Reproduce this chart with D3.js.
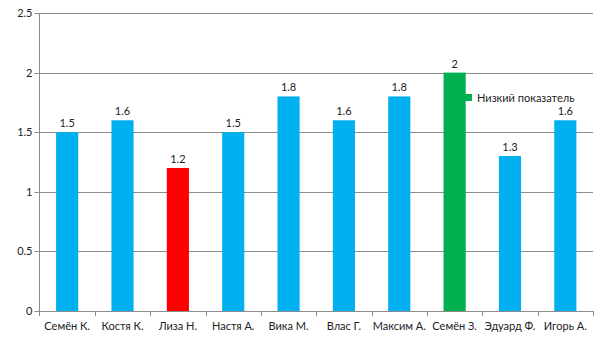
<!DOCTYPE html>
<html><head><meta charset="utf-8">
<script src="https://cdn.jsdelivr.net/npm/d3@7"></script>
<style>body{margin:0;background:#fff}svg{display:block;font-family:Lato,sans-serif}</style>
</head><body><svg id="c" width="605" height="340"></svg>
<script>
const categories = ["Семён К.","Костя К.","Лиза Н.","Настя А.","Вика М.","Влас Г.","Максим А.","Семён З.","Эдуард Ф.","Игорь А."];
const values = [1.5,1.6,1.2,1.5,1.8,1.6,1.8,2,1.3,1.6];
const barColors = ["#00B0F0","#00B0F0","#FF0000","#00B0F0","#00B0F0","#00B0F0","#00B0F0","#00B050","#00B0F0","#00B0F0"];
const yTicks = [0,0.5,1,1.5,2,2.5];
const legendLabel = "Низкий показатель";

const svg = d3.select("#c");
const L = 39.5, R = 593, T = 13, B = 311;
const x = d3.scaleBand().domain(categories).range([L, R]).paddingInner(0.6).paddingOuter(0.3);
const xb = d3.scaleBand().domain(categories).range([L, R]);
const y = d3.scaleLinear().domain([0, 2.5]).range([B, T]);

svg.append("g").selectAll("line").data(yTicks).join("line")
  .attr("x1", L - 5).attr("x2", R).attr("y1", d => Math.round(y(d)) + 0.5).attr("y2", d => Math.round(y(d)) + 0.5)
  .attr("stroke", "#8c8c8c").attr("stroke-width", 1);
svg.append("g").selectAll("text").data(yTicks).join("text")
  .attr("x", L - 7).attr("y", d => y(d) + 4).attr("text-anchor", "end")
  .attr("font-size", 11).attr("fill", "#222").text(d => d);

svg.append("line").attr("x1", L).attr("x2", L).attr("y1", T).attr("y2", B + 5)
  .attr("stroke", "#8c8c8c");
const bounds = categories.map(c => xb(c) + xb.bandwidth());
svg.append("g").selectAll("line").data(bounds).join("line")
  .attr("x1", d => Math.round(d) + 0.5).attr("x2", d => Math.round(d) + 0.5)
  .attr("y1", B).attr("y2", B + 5).attr("stroke", "#8c8c8c");

svg.append("g").selectAll("rect").data(values).join("rect")
  .attr("x", (d, i) => x(categories[i])).attr("width", x.bandwidth())
  .attr("y", d => y(d)).attr("height", d => B - y(d))
  .attr("fill", (d, i) => barColors[i]);

svg.append("g").selectAll("text").data(values).join("text")
  .attr("x", (d, i) => x(categories[i]) + x.bandwidth() / 2).attr("y", d => y(d) - 5)
  .attr("text-anchor", "middle").attr("font-size", 11).attr("fill", "#222").text(d => d);

svg.append("g").selectAll("text").data(categories).join("text")
  .attr("x", d => xb(d) + xb.bandwidth() / 2).attr("y", 330)
  .attr("text-anchor", "middle").attr("font-size", 11).attr("fill", "#222").text(d => d);

svg.append("rect").attr("x", 465).attr("y", 94).attr("width", 7).attr("height", 7).attr("fill", "#00B050");
svg.append("text").attr("x", 477).attr("y", 101.5).attr("font-size", 11).attr("fill", "#222").text(legendLabel);
</script></body></html>
